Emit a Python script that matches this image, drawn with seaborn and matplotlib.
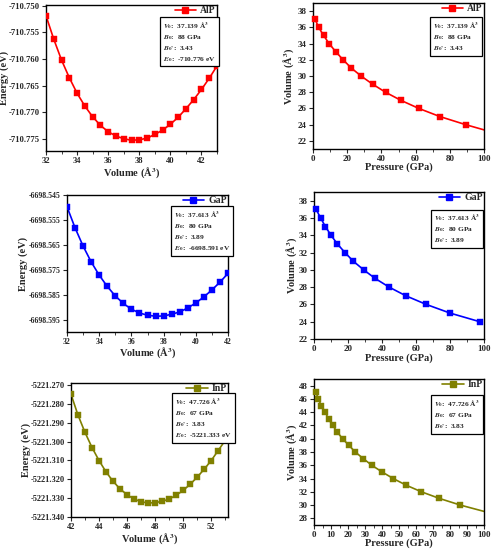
import numpy as np
import pandas as pd
import matplotlib
matplotlib.use("Agg")
import matplotlib.pyplot as plt
from matplotlib.lines import Line2D
from matplotlib.ticker import MultipleLocator, AutoMinorLocator, NullLocator
import seaborn as sns

# ---- datos E-V ----
vol_alp = np.arange(32, 43.01, 0.5)
e_alp = -710.750 - np.array([0.0019, 0.0063, 0.0102, 0.0135, 0.0164, 0.0188, 0.0208, 0.0224,
                             0.0236, 0.0244, 0.0249, 0.0252, 0.0251, 0.0248, 0.0241, 0.0233,
                             0.0222, 0.0209, 0.0193, 0.0176, 0.0157, 0.0136, 0.0113])

vol_gap = np.arange(32, 42.01, 0.5)
e_gap = -6698.545 - np.array([0.0047, 0.0131, 0.0204, 0.0267, 0.0320, 0.0365, 0.0403, 0.0433,
                              0.0456, 0.0471, 0.0480, 0.0484, 0.0483, 0.0476, 0.0467, 0.0451,
                              0.0431, 0.0407, 0.0379, 0.0348, 0.0313])

vol_inp = np.arange(42, 53.01, 0.5)
e_inp = -5221.270 - np.array([0.0050, 0.0160, 0.0252, 0.0332, 0.0401, 0.0461, 0.0511, 0.0551,
                              0.0582, 0.0605, 0.0619, 0.0626, 0.0624, 0.0617, 0.0605, 0.0585,
                              0.0559, 0.0527, 0.0489, 0.0447, 0.0401, 0.0348, 0.0294])

# ---- datos P-V ----
v_alp = [37, 36, 35, 34, 33, 32, 31, 30, 29, 28, 27, 26, 25, 24]
p_alp = [1.2, 3.3, 6.2, 9.4, 13.3, 17.6, 22.3, 28.1, 34.8, 42.4, 51.4, 61.9, 74.2, 89.3]
p_alp_end, v_alp_end = 100, 23.36

v_gap = [37, 36, 35, 34, 33, 32, 31, 30, 29, 28, 27, 26, 25, 24]
p_gap = [1.2, 3.9, 6.7, 10.0, 13.7, 18.2, 23.1, 29.2, 36.0, 44.2, 54.0, 66.0, 80.0, 97.5]

v_inp = [47, 46, 45, 44, 43, 42, 41, 40, 39, 38, 37, 36, 35, 34, 33, 32, 31, 30]
p_inp = [1.2, 2.5, 4.3, 6.5, 8.6, 11.0, 13.7, 16.8, 20.5, 24.3, 29.0, 34.0, 40.0, 46.6,
         54.2, 63.2, 73.8, 86.1]
p_inp_end, v_inp_end = 100, 29.05

params_alp = [r"$V_0$:  37.139 Å$^3$", r"$B_0$:  88 GPa", r"$B_0$':  3.43", r"$E_0$:  -710.776 eV"]
params_gap = [r"$V_0$:  37.613 Å$^3$", r"$B_0$:  80 GPa", r"$B_0$':  3.89", r"$E_0$:  -6698.591 eV"]
params_inp = [r"$V_0$:  47.726 Å$^3$", r"$B_0$:  67 GPa", r"$B_0$':  3.83", r"$E_0$:  -5221.333 eV"]

sns.set_style("ticks")
plt.rcParams['font.family'] = ['Liberation Serif', 'DejaVu Serif']
plt.rcParams['font.weight'] = 'bold'
plt.rcParams['axes.labelweight'] = 'bold'
plt.rcParams['mathtext.fontset'] = 'stix'
plt.rcParams['axes.linewidth'] = 1.0

W, H = 495, 550
fig = plt.figure(figsize=(W / 100, H / 100), dpi=100)
boxes = {}


def make_ax(l, r, t, b):
    ax = fig.add_axes([l / W, (H - b) / H, (r - l) / W, (b - t) / H])
    boxes[ax] = (l, r, t, b)
    return ax


def style(ax, xlabel, ylabel, xmaj, ymaj, ylab_x, xlab_y, yfmt=None, yoff=0.0, tsize=6.5):
    l, r, t, b = boxes[ax]
    ax.set_xlabel(xlabel, fontsize=7.5)
    ax.set_ylabel(ylabel, fontsize=7.5)
    # posicion de etiquetas en pixeles de la figura
    ax.yaxis.set_label_coords((ylab_x - l) / (r - l), 0.5)
    ax.xaxis.set_label_coords(0.5, (b - xlab_y) / (b - t))
    ax.xaxis.set_major_locator(MultipleLocator(xmaj))
    ax.yaxis.set_major_locator(MultipleLocator(ymaj, offset=yoff))
    ax.xaxis.set_minor_locator(AutoMinorLocator(2))
    ax.yaxis.set_minor_locator(NullLocator())
    ax.tick_params(which='major', direction='out', length=3, width=0.8, labelsize=tsize, pad=1.5)
    ax.tick_params(which='minor', direction='out', length=1.8, width=0.6)
    if yfmt:
        ax.yaxis.set_major_formatter(plt.FormatStrFormatter(yfmt))
    for s in ax.spines.values():
        s.set_visible(True)
        s.set_color('black')


def add_legend(ax, color, label):
    h = Line2D([], [], color=color, marker='s', markersize=4, lw=1.2)
    ax.legend(handles=[h], labels=[label], loc='upper right', frameon=False,
              handlelength=2.2, handletextpad=0.4, borderaxespad=0.05,
              borderpad=0.1, prop={'weight': 'bold', 'size': 7})


def add_box(ax, lines, x, y):
    ax.text(x, y, "\n".join(lines), transform=ax.transAxes, ha='left', va='top',
            fontsize=5.3, linespacing=1.35, zorder=5,
            bbox=dict(boxstyle='square,pad=0.4', fc='white', ec='black', lw=0.9))


def ev_panel(ax, v, e, color, label):
    df = pd.DataFrame({'v': v, 'e': e})
    sns.lineplot(data=df, x='v', y='e', color=color, lw=1.2, ax=ax)
    sns.scatterplot(data=df, x='v', y='e', color=color, marker='s', s=14,
                    edgecolor=color, linewidth=0.3, ax=ax, zorder=3)
    add_legend(ax, color, label)


def pv_panel(ax, p, v, color, label, end=None):
    lp, lv = list(p), list(v)
    if end is not None:
        lp.append(end[0])
        lv.append(end[1])
    sns.lineplot(x=lp, y=lv, color=color, lw=1.2, ax=ax, sort=False)
    sns.scatterplot(x=p, y=v, color=color, marker='s', s=14,
                    edgecolor=color, linewidth=0.3, ax=ax, zorder=3, clip_on=False)
    add_legend(ax, color, label)


red, blue, olive = '#FF0000', '#0000FF', '#808000'

# AlP
ax1 = make_ax(46, 217, 5, 151)
ev_panel(ax1, vol_alp, e_alp, red, 'AlP')
ax1.set_xlim(32, 43)
ax1.set_ylim(-710.7772, -710.7499)
style(ax1, 'Volume (Å$^3$)', 'Energy (eV)', 2, 0.005, 9, 165, '%.3f', tsize=6.2)
add_box(ax1, params_alp, 0.685, 0.9)

ax2 = make_ax(313, 484, 3, 149)
pv_panel(ax2, p_alp, v_alp, red, 'AlP', (p_alp_end, v_alp_end))
ax2.set_xlim(0, 100)
ax2.set_ylim(21, 39)
style(ax2, 'Pressure (GPa)', 'Volume (Å$^3$)', 20, 2, 296, 162)
add_box(ax2, params_alp[:3], 0.7, 0.885)

# GaP
ax3 = make_ax(67, 228, 195, 332)
ev_panel(ax3, vol_gap, e_gap, blue, 'GaP')
ax3.set_xlim(32, 42)
ax3.set_ylim(-6698.5997, -6698.545)
style(ax3, 'Volume (Å$^3$)', 'Energy (eV)', 2, 0.01, 28, 345, '%.3f', yoff=0.005, tsize=5.6)
add_box(ax3, params_gap, 0.665, 0.9)

ax4 = make_ax(314, 484, 192, 339)
pv_panel(ax4, p_gap, v_gap, blue, 'GaP')
ax4.set_xlim(0, 100)
ax4.set_ylim(22, 39)
style(ax4, 'Pressure (GPa)', 'Volume (Å$^3$)', 20, 2, 299, 353)
add_box(ax4, params_gap[:3], 0.705, 0.86)

# InP
ax5 = make_ax(71, 228, 383, 517)
ev_panel(ax5, vol_inp, e_inp, olive, 'InP')
ax5.set_xlim(42, 53.2)
ax5.set_ylim(-5221.340, -5221.269)
style(ax5, 'Volume (Å$^3$)', 'Energy (eV)', 2, 0.01, 31, 531, '%.3f', tsize=6.0)
add_box(ax5, params_inp, 0.665, 0.9)

ax6 = make_ax(314, 484, 379, 525)
pv_panel(ax6, p_inp, v_inp, olive, 'InP', (p_inp_end, v_inp_end))
ax6.set_xlim(0, 100)
ax6.set_ylim(27, 49)
style(ax6, 'Pressure (GPa)', 'Volume (Å$^3$)', 10, 2, 299, 538)
add_box(ax6, params_inp[:3], 0.705, 0.87)

fig.savefig('out.png', dpi=100)
